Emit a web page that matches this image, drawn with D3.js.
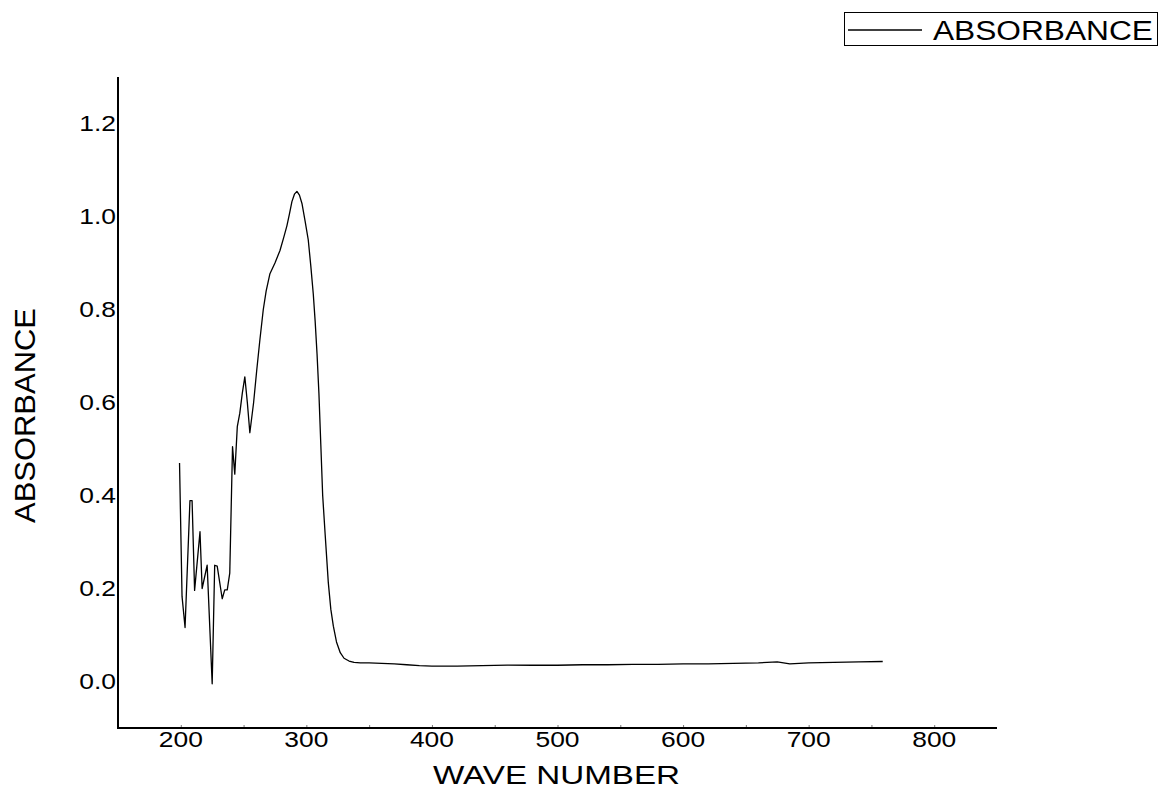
<!DOCTYPE html>
<html>
<head>
<meta charset="utf-8">
<script src="https://cdn.jsdelivr.net/npm/d3@7/dist/d3.min.js"></script>
<style>
  html, body { margin: 0; padding: 0; background: #fff; }
  svg { display: block; }
  text { font-family: "Liberation Sans", Arial, sans-serif; fill: #000; }
</style>
</head>
<body>
<svg id="chart" width="1161" height="789"></svg>
<script>
// ---- data ----
const wavelength = [199, 201, 203.4, 207.3, 209, 211, 215.3, 217, 221, 225, 227, 229, 233, 235, 237, 239,
  241.2, 243, 245, 247, 249, 251, 253, 255, 258, 260.5, 263, 265.7, 268, 271, 275, 279, 282, 284.5,
  286.5, 288.5, 290.5, 292.5, 294.5, 296.5, 299, 301.5, 303.5, 305.5, 307, 308.5, 310, 311.5, 313,
  315, 317.5, 319.5, 321.5, 324, 327, 330, 334, 338, 343, 350, 360, 370, 380, 390, 400, 420, 440,
  460, 480, 500, 520, 540, 560, 580, 600, 620, 640, 660, 675, 685, 700, 720, 740, 759];
const absorbance = [0.47, 0.183, 0.116, 0.389, 0.389, 0.196, 0.322, 0.2, 0.25, -0.005, 0.25, 0.248, 0.178, 0.197, 0.197, 0.233,
  0.505, 0.446, 0.548, 0.577, 0.62, 0.655, 0.6, 0.535, 0.6, 0.67, 0.735, 0.8, 0.84, 0.877, 0.9, 0.927, 0.955, 0.98,
  1.005, 1.032, 1.048, 1.054, 1.046, 1.028, 0.99, 0.95, 0.895, 0.834, 0.775, 0.705, 0.62, 0.51, 0.4,
  0.315, 0.212, 0.155, 0.119, 0.085, 0.062, 0.05, 0.044, 0.041, 0.040, 0.040, 0.039, 0.038, 0.036, 0.034, 0.033, 0.033, 0.034,
  0.035, 0.035, 0.035, 0.036, 0.036, 0.037, 0.037, 0.038, 0.038, 0.039, 0.040, 0.042, 0.038, 0.040, 0.041, 0.042, 0.043];
const xTicks = [200, 300, 400, 500, 600, 700, 800];
const xMinorTicks = [200, 250, 300, 350, 400, 450, 500, 550, 600, 650, 700, 750, 800];
const yTicks = [0.0, 0.2, 0.4, 0.6, 0.8, 1.0, 1.2];
const seriesName = "ABSORBANCE";
const xTitle = "WAVE NUMBER";
const yTitle = "ABSORBANCE";

// ---- layout ----
const svg = d3.select("#chart");
const x = d3.scaleLinear().domain([150, 850]).range([118, 997]);
const y = d3.scaleLinear().domain([-0.1, 1.3]).range([728, 77]);

// minor tick marks on x axis (inward)
const xAxis = d3.axisBottom(x).tickValues(xMinorTicks).tickSize(-3).tickFormat("");
const gx = svg.append("g").attr("transform", `translate(0,${y.range()[0]})`).call(xAxis);
gx.select(".domain").remove();
gx.selectAll(".tick line").attr("stroke", "#777").attr("stroke-width", 1);

// x tick labels
svg.append("g").selectAll("text").data(xTicks).join("text")
  .attr("transform", d => `translate(${x(d)},747) scale(1.2,1)`)
  .attr("text-anchor", "middle")
  .attr("font-size", 22)
  .text(d => d);

// y tick labels
svg.append("g").selectAll("text").data(yTicks).join("text")
  .attr("transform", d => `translate(116,${y(d) + 7.5}) scale(1.2,1)`)
  .attr("text-anchor", "end")
  .attr("font-size", 22)
  .text(d => d.toFixed(1));

// axis lines
svg.append("line").attr("x1", x.range()[0]).attr("x2", x.range()[0])
  .attr("y1", y.range()[1]).attr("y2", y.range()[0] + 1)
  .attr("stroke", "#000").attr("stroke-width", 2);
svg.append("line").attr("x1", x.range()[0] - 1).attr("x2", x.range()[1])
  .attr("y1", y.range()[0]).attr("y2", y.range()[0])
  .attr("stroke", "#000").attr("stroke-width", 2);

// data line
const data = wavelength.map((w, i) => [w, absorbance[i]]);
svg.append("path").datum(data)
  .attr("fill", "none").attr("stroke", "#000").attr("stroke-width", 1.3)
  .attr("stroke-linejoin", "round")
  .attr("d", d3.line().x(d => x(d[0])).y(d => y(d[1])));

// axis titles
svg.append("text")
  .attr("x", 556.5).attr("y", 784)
  .attr("text-anchor", "middle")
  .attr("font-size", 25)
  .attr("textLength", 247).attr("lengthAdjust", "spacingAndGlyphs")
  .text(xTitle);
svg.append("text")
  .attr("transform", "translate(35,415.5) rotate(-90)")
  .attr("text-anchor", "middle")
  .attr("font-size", 29)
  .attr("textLength", 215).attr("lengthAdjust", "spacingAndGlyphs")
  .text(yTitle);

// legend
const lg = svg.append("g");
lg.append("rect").attr("x", 844.5).attr("y", 12.5).attr("width", 313).attr("height", 33)
  .attr("fill", "#fff").attr("stroke", "#000").attr("stroke-width", 1);
lg.append("line").attr("x1", 848).attr("x2", 922).attr("y1", 30).attr("y2", 30)
  .attr("stroke", "#000").attr("stroke-width", 1.3);
lg.append("text").attr("x", 933).attr("y", 40)
  .attr("font-size", 27)
  .attr("textLength", 220).attr("lengthAdjust", "spacingAndGlyphs")
  .text(seriesName);
</script>
</body>
</html>
